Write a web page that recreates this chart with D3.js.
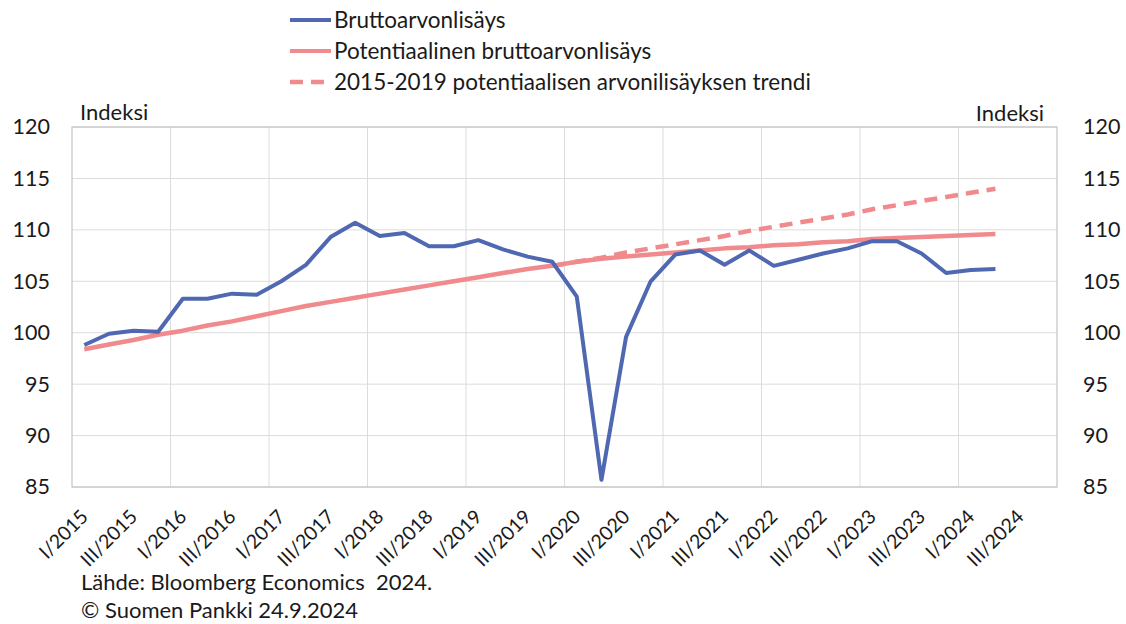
<!DOCTYPE html>
<html lang="fi">
<head>
<meta charset="UTF-8">
<title>Bruttoarvonlisäys ja potentiaalinen bruttoarvonlisäys</title>
<style>
  * { margin: 0; padding: 0; box-sizing: border-box; }
  body { background: #fff; width: 1126px; height: 624px; overflow: hidden; }
  svg { display: block; font-family: Lato, "Open Sans", sans-serif; }
  .tick text { fill: #1a1a1a; }
  .grid line { stroke: #dcdcdc; stroke-width: 1; }
</style>
</head>
<body>
<div id="chart"></div>
<script src="https://d3js.org/d3.v7.min.js"></script>
<script>
// quarters on the category axis
const quarters = [
  "I/2015","II/2015","III/2015","IV/2015",
  "I/2016","II/2016","III/2016","IV/2016",
  "I/2017","II/2017","III/2017","IV/2017",
  "I/2018","II/2018","III/2018","IV/2018",
  "I/2019","II/2019","III/2019","IV/2019",
  "I/2020","II/2020","III/2020","IV/2020",
  "I/2021","II/2021","III/2021","IV/2021",
  "I/2022","II/2022","III/2022","IV/2022",
  "I/2023","II/2023","III/2023","IV/2023",
  "I/2024","II/2024","III/2024","IV/2024"
];
const xLabels = [
  "I/2015","III/2015","I/2016","III/2016","I/2017","III/2017","I/2018","III/2018",
  "I/2019","III/2019","I/2020","III/2020","I/2021","III/2021","I/2022","III/2022",
  "I/2023","III/2023","I/2024","III/2024"
];
const yearStarts = ["I/2016","I/2017","I/2018","I/2019","I/2020","I/2021","I/2022","I/2023","I/2024"];
const yTicks = [85, 90, 95, 100, 105, 110, 115, 120];

// Bruttoarvonlisäys, I/2015 – II/2024
const gva = [98.8, 99.9, 100.2, 100.1, 103.3, 103.3, 103.8, 103.7,
  105.0, 106.6, 109.3, 110.7, 109.4, 109.7, 108.4, 108.4,
  109.0, 108.1, 107.4, 106.9, 103.5, 85.7, 99.6, 105.0,
  107.6, 108.0, 106.6, 108.0, 106.5, 107.1, 107.7, 108.2,
  108.9, 108.9, 107.7, 105.8, 106.1, 106.2];
// Potentiaalinen bruttoarvonlisäys, I/2015 – II/2024
const potential = [98.4, 98.85, 99.3, 99.8, 100.2, 100.7, 101.1, 101.6,
  102.1, 102.6, 103.0, 103.4, 103.8, 104.2, 104.6, 105.0,
  105.4, 105.8, 106.2, 106.5, 106.9, 107.2, 107.4, 107.6,
  107.8, 108.0, 108.2, 108.3, 108.5, 108.6, 108.8, 108.9,
  109.1, 109.2, 109.3, 109.4, 109.5, 109.6];
// 2015-2019 trendi, IV/2019 – II/2024
const trendStart = "IV/2019";
const trend = [106.5, 106.9, 107.3, 107.8, 108.2, 108.6, 109.0, 109.4,
  109.9, 110.3, 110.7, 111.1, 111.5, 112.0, 112.4, 112.8, 113.2, 113.6, 114.0];

const W = 1126, H = 624;
const plot = { left: 72, right: 1057, top: 127, bottom: 487 };
const blue = "#4f68b1", red = "#f08a8c", ink = "#1a1a1a";

const svg = d3.select("#chart").append("svg")
  .attr("width", W).attr("height", H);

const x = d3.scaleBand().domain(quarters).range([plot.left, plot.right]).padding(0);
const y = d3.scaleLinear().domain([85, 120]).range([plot.bottom, plot.top]);
const cx = q => x(q) + x.bandwidth() / 2;

// grid
const grid = svg.append("g").attr("class", "grid");
grid.selectAll(".h").data(yTicks).enter().append("line")
  .attr("x1", plot.left).attr("x2", plot.right)
  .attr("y1", d => y(d)).attr("y2", d => y(d));
grid.selectAll(".v").data(yearStarts).enter().append("line")
  .attr("x1", d => x(d)).attr("x2", d => x(d))
  .attr("y1", plot.top).attr("y2", plot.bottom);
svg.append("rect")
  .attr("x", plot.left).attr("y", plot.top)
  .attr("width", plot.right - plot.left).attr("height", plot.bottom - plot.top)
  .attr("fill", "none").attr("stroke", "#c4c4c4").attr("stroke-width", 1.2);

// y axes
const yl = svg.append("g").attr("transform", `translate(${plot.left},0)`)
  .call(d3.axisLeft(y).tickValues(yTicks).tickSize(0).tickPadding(22));
const yr = svg.append("g").attr("transform", `translate(${plot.right},0)`)
  .call(d3.axisRight(y).tickValues(yTicks).tickSize(0).tickPadding(26));
[yl, yr].forEach(g => {
  g.select(".domain").remove();
  g.selectAll("text").style("font-size", "21.5px").style("font-family", "Lato, sans-serif");
});

// x axis
const xa = svg.append("g").attr("transform", `translate(0,${plot.bottom})`)
  .call(d3.axisBottom(x).tickValues(xLabels).tickSize(0));
xa.select(".domain").remove();
xa.selectAll("text")
  .attr("x", 0).attr("y", 0).attr("dy", 0)
  .attr("text-anchor", "end")
  .attr("transform", "translate(5,31) rotate(-45)")
  .style("font-size", "19.5px").style("font-family", "Lato, sans-serif");

// axis titles
svg.append("text").attr("x", 80).attr("y", 120).attr("fill", ink)
  .style("font-size", "22px").text("Indeksi");
svg.append("text").attr("x", 1044).attr("y", 121).attr("text-anchor", "end").attr("fill", ink)
  .style("font-size", "22px").text("Indeksi");

// lines
const line = d3.line().x(d => cx(d.q)).y(d => y(d.v));
const toPts = (vals, start) => {
  const i0 = quarters.indexOf(start);
  return vals.map((v, i) => ({ q: quarters[i0 + i], v }));
};

svg.append("path").datum(toPts(trend, trendStart)).attr("d", line)
  .attr("fill", "none").attr("stroke", red).attr("stroke-width", 4.5)
  .attr("stroke-dasharray", "13,8");
svg.append("path").datum(toPts(potential, "I/2015")).attr("d", line)
  .attr("fill", "none").attr("stroke", red).attr("stroke-width", 4.5)
  .attr("stroke-linejoin", "round");
svg.append("path").datum(toPts(gva, "I/2015")).attr("d", line)
  .attr("fill", "none").attr("stroke", blue).attr("stroke-width", 4)
  .attr("stroke-linejoin", "round");

// legend
const legend = [
  { name: "Bruttoarvonlisäys", color: blue, dash: null },
  { name: "Potentiaalinen bruttoarvonlisäys", color: red, dash: null },
  { name: "2015-2019 potentiaalisen arvonilisäyksen trendi", color: red, dash: "13,8" }
];
const lg = svg.append("g").attr("transform", "translate(290,20)");
legend.forEach((d, i) => {
  const row = lg.append("g").attr("transform", `translate(0,${i * 31})`);
  row.append("line").attr("x1", 0).attr("x2", 41).attr("y1", 0).attr("y2", 0)
    .attr("stroke", d.color).attr("stroke-width", d.dash ? 4.5 : 4)
    .attr("stroke-dasharray", d.dash);
  row.append("text").attr("x", 44).attr("y", 8).attr("fill", ink)
    .style("font-size", "22.5px").text(d.name);
});

// source
svg.append("text").attr("x", 81).attr("y", 590).attr("fill", ink)
  .style("font-size", "22px").text("Lähde: Bloomberg Economics  2024.")
  .attr("xml:space", "preserve").style("white-space", "pre");
svg.append("text").attr("x", 81).attr("y", 618).attr("fill", ink)
  .style("font-size", "22px").text("© Suomen Pankki 24.9.2024");
</script>
</body>
</html>
